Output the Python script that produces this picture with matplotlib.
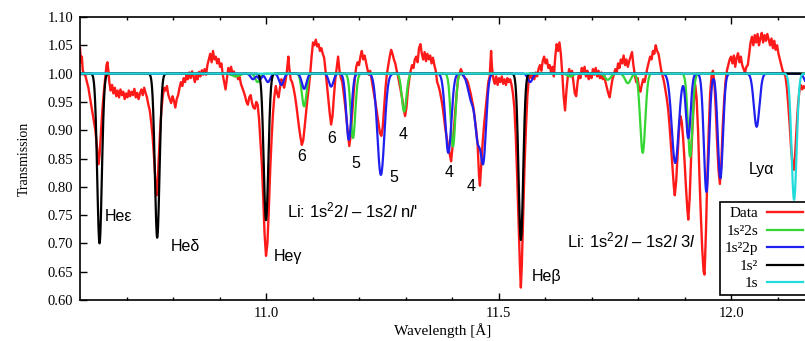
import numpy as np
import matplotlib
matplotlib.use("Agg")
import matplotlib.pyplot as plt

plt.rcParams['font.family'] = ['Liberation Serif', 'DejaVu Serif']
plt.rcParams['mathtext.fontset'] = 'custom'
plt.rcParams['mathtext.rm'] = 'Liberation Sans'
plt.rcParams['mathtext.it'] = 'Liberation Sans:italic'

# measured transmission (wavelength [A], transmission)
data_points = [
    (10.600, 1.045), (10.602, 1.020), (10.604, 1.030), (10.606, 1.005), (10.609, 1.000),
    (10.612, 0.995), (10.615, 0.985), (10.618, 0.975), (10.621, 0.960), (10.624, 0.945),
    (10.627, 0.930), (10.630, 0.915), (10.633, 0.900), (10.636, 0.875), (10.638, 0.855),
    (10.640, 0.840), (10.642, 0.855), (10.645, 0.895), (10.648, 0.935), (10.651, 0.965),
    (10.654, 0.990), (10.657, 1.015), (10.659, 1.020), (10.661, 1.005), (10.663, 0.985),
    (10.666, 0.970), (10.669, 0.980), (10.672, 0.965), (10.675, 0.975), (10.678, 0.960),
    (10.681, 0.970), (10.684, 0.958), (10.687, 0.972), (10.690, 0.962), (10.693, 0.968),
    (10.696, 0.955), (10.699, 0.965), (10.702, 0.958), (10.705, 0.970), (10.708, 0.960),
    (10.711, 0.968), (10.714, 0.962), (10.717, 0.973), (10.720, 0.958), (10.723, 0.966),
    (10.726, 0.955), (10.729, 0.965), (10.732, 0.972), (10.735, 0.962), (10.738, 0.975),
    (10.741, 0.966), (10.744, 0.958), (10.747, 0.945), (10.750, 0.935), (10.753, 0.915),
    (10.756, 0.890), (10.759, 0.855), (10.762, 0.815), (10.765, 0.785), (10.767, 0.800),
    (10.769, 0.845), (10.772, 0.895), (10.775, 0.935), (10.778, 0.960), (10.781, 0.975),
    (10.784, 0.970), (10.787, 0.978), (10.790, 0.962), (10.793, 0.955), (10.796, 0.948),
    (10.799, 0.960), (10.802, 0.952), (10.805, 0.940), (10.808, 0.955), (10.811, 0.962),
    (10.814, 0.975), (10.817, 0.985), (10.820, 0.978), (10.823, 0.992), (10.826, 0.985),
    (10.829, 0.998), (10.832, 0.990), (10.835, 1.002), (10.838, 0.992), (10.841, 1.004),
    (10.844, 0.995), (10.847, 0.985), (10.850, 0.998), (10.853, 0.990), (10.856, 1.003),
    (10.859, 0.995), (10.862, 1.006), (10.865, 0.998), (10.868, 1.008), (10.871, 0.998),
    (10.874, 1.015), (10.877, 1.025), (10.880, 1.035), (10.883, 1.020), (10.886, 1.040),
    (10.889, 1.025), (10.892, 1.030), (10.895, 1.018), (10.898, 1.026), (10.901, 1.012),
    (10.904, 1.018), (10.907, 0.998), (10.910, 0.985), (10.913, 0.972), (10.916, 0.992),
    (10.919, 1.010), (10.922, 1.002), (10.925, 1.012), (10.928, 0.998), (10.931, 1.004),
    (10.934, 0.995), (10.937, 1.000), (10.940, 0.990), (10.943, 0.995), (10.946, 0.982),
    (10.949, 0.975), (10.952, 0.968), (10.955, 0.960), (10.958, 0.950), (10.961, 0.945),
    (10.964, 0.958), (10.967, 0.962), (10.970, 0.948), (10.973, 0.940), (10.976, 0.938),
    (10.979, 0.950), (10.982, 0.945), (10.985, 0.920), (10.988, 0.880), (10.991, 0.840),
    (10.994, 0.780), (10.997, 0.715), (11.000, 0.678), (11.003, 0.700), (11.006, 0.760),
    (11.009, 0.830), (11.012, 0.885), (11.015, 0.930), (11.018, 0.960), (11.021, 0.978),
    (11.024, 0.965), (11.027, 0.958), (11.030, 0.975), (11.033, 0.990), (11.036, 0.982),
    (11.039, 0.975), (11.042, 0.988), (11.045, 1.005), (11.048, 1.030), (11.050, 1.010),
    (11.053, 0.990), (11.056, 0.985), (11.059, 0.975), (11.062, 0.962), (11.065, 0.945),
    (11.068, 0.925), (11.071, 0.905), (11.074, 0.888), (11.077, 0.874), (11.080, 0.882),
    (11.083, 0.905), (11.086, 0.930), (11.089, 0.955), (11.092, 0.975), (11.095, 1.000),
    (11.098, 1.030), (11.101, 1.055), (11.104, 1.050), (11.107, 1.060), (11.110, 1.048),
    (11.113, 1.052), (11.116, 1.040), (11.119, 1.045), (11.122, 1.035), (11.125, 1.028),
    (11.128, 1.005), (11.131, 0.980), (11.134, 0.955), (11.137, 0.930), (11.140, 0.910),
    (11.143, 0.925), (11.146, 0.960), (11.149, 0.990), (11.152, 1.010), (11.155, 1.030),
    (11.158, 1.005), (11.161, 0.992), (11.164, 0.985), (11.167, 0.965), (11.170, 0.945),
    (11.173, 0.920), (11.176, 0.895), (11.179, 0.872), (11.182, 0.890), (11.185, 0.925),
    (11.188, 0.960), (11.191, 0.992), (11.194, 1.012), (11.197, 1.020), (11.200, 1.015),
    (11.203, 1.030), (11.206, 1.040), (11.209, 1.025), (11.212, 1.032), (11.215, 1.020),
    (11.218, 1.008), (11.221, 0.998), (11.224, 1.005), (11.227, 0.990), (11.230, 0.975),
    (11.233, 0.960), (11.236, 0.945), (11.239, 0.928), (11.242, 0.912), (11.245, 0.895),
    (11.248, 0.890), (11.251, 0.905), (11.254, 0.940), (11.257, 0.975), (11.260, 1.000),
    (11.263, 1.015), (11.266, 1.030), (11.269, 1.042), (11.272, 1.035), (11.275, 1.025),
    (11.278, 1.018), (11.281, 1.005), (11.284, 0.995), (11.287, 0.982), (11.290, 0.968),
    (11.293, 0.955), (11.296, 0.938), (11.299, 0.925), (11.302, 0.940), (11.305, 0.970),
    (11.308, 0.990), (11.311, 1.005), (11.314, 1.015), (11.317, 1.010), (11.320, 1.025),
    (11.323, 1.030), (11.326, 1.020), (11.329, 1.045), (11.332, 1.052), (11.335, 1.035),
    (11.338, 1.025), (11.341, 1.038), (11.344, 1.022), (11.347, 1.035), (11.350, 1.025),
    (11.353, 1.032), (11.356, 1.018), (11.359, 1.028), (11.362, 1.015), (11.365, 1.005),
    (11.368, 0.985), (11.371, 0.978), (11.374, 0.968), (11.377, 0.955), (11.380, 0.940),
    (11.383, 0.920), (11.386, 0.900), (11.389, 0.885), (11.392, 0.870), (11.395, 0.858),
    (11.398, 0.845), (11.401, 0.870), (11.404, 0.900), (11.407, 0.935), (11.410, 0.965),
    (11.413, 0.992), (11.416, 1.000), (11.419, 1.008), (11.422, 1.002), (11.425, 0.995),
    (11.428, 0.992), (11.431, 0.990), (11.434, 0.985), (11.437, 0.975), (11.440, 0.965),
    (11.443, 0.952), (11.446, 0.940), (11.449, 0.920), (11.452, 0.900), (11.455, 0.875),
    (11.458, 0.820), (11.460, 0.802), (11.463, 0.840), (11.466, 0.880), (11.469, 0.910),
    (11.472, 0.935), (11.475, 0.960), (11.478, 0.985), (11.481, 0.995), (11.484, 1.040),
    (11.486, 1.010), (11.489, 0.990), (11.492, 0.982), (11.495, 0.995), (11.498, 0.980),
    (11.501, 0.992), (11.504, 0.985), (11.507, 0.995), (11.510, 0.982), (11.513, 0.990),
    (11.516, 0.980), (11.519, 0.992), (11.522, 0.985), (11.525, 0.990), (11.528, 0.980),
    (11.531, 0.965), (11.534, 0.940), (11.537, 0.890), (11.540, 0.820), (11.543, 0.740),
    (11.546, 0.660), (11.548, 0.622), (11.550, 0.660), (11.553, 0.750), (11.556, 0.840),
    (11.559, 0.905), (11.562, 0.960), (11.565, 0.990), (11.568, 0.998), (11.571, 0.992),
    (11.574, 1.000), (11.577, 0.990), (11.580, 1.002), (11.583, 0.995), (11.586, 1.008),
    (11.589, 1.015), (11.592, 1.005), (11.595, 1.022), (11.598, 1.030), (11.601, 1.018),
    (11.604, 1.025), (11.607, 1.010), (11.610, 1.015), (11.613, 1.002), (11.616, 1.012),
    (11.619, 0.995), (11.622, 1.030), (11.625, 1.052), (11.628, 1.040), (11.631, 1.055),
    (11.634, 1.035), (11.637, 1.000), (11.640, 0.960), (11.643, 0.935), (11.646, 0.970),
    (11.649, 0.995), (11.652, 1.008), (11.655, 0.995), (11.658, 1.005), (11.661, 0.985),
    (11.664, 0.965), (11.667, 0.960), (11.670, 0.985), (11.673, 1.000), (11.676, 0.992),
    (11.679, 1.010), (11.682, 1.000), (11.685, 1.012), (11.688, 0.995), (11.691, 1.005),
    (11.694, 0.990), (11.697, 1.000), (11.700, 0.992), (11.703, 1.008), (11.706, 0.998),
    (11.709, 1.010), (11.712, 0.995), (11.715, 1.005), (11.718, 0.992), (11.721, 1.002),
    (11.724, 0.990), (11.727, 0.998), (11.730, 0.985), (11.733, 0.975), (11.736, 0.965),
    (11.739, 0.958), (11.742, 0.975), (11.745, 0.990), (11.748, 0.998), (11.751, 1.008),
    (11.754, 1.000), (11.757, 1.018), (11.760, 1.010), (11.763, 1.025), (11.766, 1.018),
    (11.769, 1.032), (11.772, 1.015), (11.775, 1.025), (11.778, 1.012), (11.781, 1.022),
    (11.784, 1.030), (11.787, 1.038), (11.790, 1.015), (11.793, 0.998), (11.796, 0.985),
    (11.799, 0.992), (11.802, 0.975), (11.805, 0.968), (11.808, 0.980), (11.811, 0.990),
    (11.814, 0.985), (11.817, 0.998), (11.820, 1.010), (11.823, 1.020), (11.826, 1.030),
    (11.829, 1.025), (11.832, 1.040), (11.835, 1.035), (11.838, 1.050), (11.841, 1.040),
    (11.844, 1.035), (11.847, 1.020), (11.850, 1.005), (11.853, 0.995), (11.856, 0.985),
    (11.859, 0.970), (11.862, 0.955), (11.865, 0.935), (11.868, 0.905), (11.871, 0.870),
    (11.874, 0.835), (11.877, 0.800), (11.879, 0.785), (11.882, 0.810), (11.885, 0.855),
    (11.888, 0.900), (11.891, 0.925), (11.894, 0.915), (11.897, 0.885), (11.900, 0.845),
    (11.903, 0.800), (11.906, 0.760), (11.908, 0.742), (11.911, 0.780), (11.914, 0.850),
    (11.917, 0.905), (11.920, 0.950), (11.923, 0.980), (11.926, 0.955), (11.929, 0.900),
    (11.932, 0.820), (11.935, 0.750), (11.938, 0.690), (11.941, 0.650), (11.943, 0.645),
    (11.946, 0.720), (11.949, 0.820), (11.952, 0.900), (11.955, 0.965), (11.958, 0.995),
    (11.961, 1.005), (11.964, 0.985), (11.967, 0.940), (11.970, 0.880), (11.973, 0.830),
    (11.976, 0.805), (11.979, 0.840), (11.982, 0.905), (11.985, 0.950), (11.988, 0.985),
    (11.991, 1.005), (11.994, 1.015), (11.997, 1.025), (12.000, 1.030), (12.003, 1.018),
    (12.006, 1.032), (12.009, 1.012), (12.012, 1.028), (12.015, 1.036), (12.018, 1.020),
    (12.021, 1.030), (12.024, 1.015), (12.027, 1.008), (12.030, 1.002), (12.033, 1.012),
    (12.036, 1.015), (12.039, 1.035), (12.042, 1.055), (12.045, 1.065), (12.048, 1.050),
    (12.051, 1.068), (12.054, 1.055), (12.057, 1.070), (12.060, 1.050), (12.063, 1.062),
    (12.066, 1.072), (12.069, 1.055), (12.072, 1.068), (12.075, 1.058), (12.078, 1.070),
    (12.081, 1.060), (12.084, 1.050), (12.087, 1.062), (12.090, 1.045), (12.093, 1.058),
    (12.096, 1.042), (12.099, 1.050), (12.102, 1.035), (12.105, 1.025), (12.108, 1.015),
    (12.111, 1.005), (12.114, 1.000), (12.117, 0.995), (12.120, 0.975), (12.123, 0.945),
    (12.126, 0.910), (12.129, 0.870), (12.132, 0.840), (12.135, 0.830), (12.138, 0.860),
    (12.141, 0.905), (12.144, 0.945), (12.147, 0.970), (12.150, 0.980), (12.153, 0.972),
    (12.156, 0.978), (12.159, 0.975),
]

# model absorption lines: (centre [A], minimum transmission, width [A])
lines_2s = [
    (10.935, 0.995, 0.008), (10.982, 0.985, 0.005), (11.082, 0.942, 0.005),
    (11.187, 0.886, 0.005), (11.297, 0.933, 0.005), (11.402, 0.871, 0.005),
    (11.654, 0.995, 0.006), (11.735, 0.989, 0.006), (11.778, 0.983, 0.006),
    (11.810, 0.860, 0.0055), (11.912, 0.853, 0.005),
]
lines_2p = [
    (10.972, 0.990, 0.005), (10.987, 0.990, 0.004), (11.004, 0.985, 0.005),
    (11.033, 0.980, 0.005), (11.082, 0.973, 0.005), (11.140, 0.977, 0.005),
    (11.178, 0.883, 0.0055), (11.247, 0.821, 0.0075), (11.392, 0.860, 0.0065),
    (11.443, 0.950, 0.008), (11.455, 0.910, 0.005), (11.467, 0.845, 0.006),
    (11.568, 0.985, 0.005), (11.880, 0.842, 0.0075), (11.908, 0.886, 0.005),
    (11.947, 0.791, 0.0055), (11.977, 0.815, 0.0055), (12.055, 0.906, 0.006),
    (12.162, 0.985, 0.005),
]
lines_1s2 = [
    (10.642, 0.700, 0.005), (10.766, 0.710, 0.005),
    (11.000, 0.741, 0.005), (11.548, 0.706, 0.005),
]
lines_1s = [
    (12.1355, 0.777, 0.0055),
]

# line labels: (text, wavelength, transmission)
ion_labels = [
    ('Heε', 10.654, 0.748), ('Heδ', 10.796, 0.694), ('Heγ', 11.017, 0.676),
    ('Heβ', 11.572, 0.642), ('Lyα', 12.037, 0.830),
]
n_labels = [
    ('6', 11.077, 0.853), ('6', 11.141, 0.886), ('5', 11.193, 0.842),
    ('5', 11.275, 0.817), ('4', 11.295, 0.892), ('4', 11.394, 0.826),
    ('4', 11.441, 0.800),
]
li_labels = [
    ("Li: 1s$^2$2$\\mathit{l}$ – 1s2$\\mathit{l}$ n$\\mathit{l}$'", 11.045, 0.759),
    ("Li: 1s$^2$2$\\mathit{l}$ – 1s2$\\mathit{l}$ 3$\\mathit{l}$", 11.647, 0.706),
]

wl_min, wl_max = 10.6, 12.159


def transmission(wl, line_list):
    t = np.ones_like(wl)
    for centre, t_min, width in line_list:
        t *= 1.0 - (1.0 - t_min) * np.exp(-0.5 * ((wl - centre) / width) ** 2)
    return t


wl = np.linspace(wl_min, wl_max, 4000)
wl_data = [p[0] for p in data_points]
tr_data = [p[1] for p in data_points]

fig = plt.figure(figsize=(8.05, 3.41), dpi=100)
ax = fig.add_axes([80 / 805, 41 / 341, 725 / 805, 283 / 341])

ax.plot(wl_data, tr_data, color='#ff1a1a', lw=1.7, label='Data')
ax.plot(wl, transmission(wl, lines_2s), color='#33d633', lw=1.6, label='1s²2s')
ax.plot(wl, transmission(wl, lines_2p), color='#1f1fef', lw=1.6, label='1s²2p')
ax.plot(wl, transmission(wl, lines_1s2), color='black', lw=1.6, label='1s²')
ax.plot(wl, transmission(wl, lines_1s), color='#22dcdc', lw=1.6, label='1s')

sans = ['Liberation Sans', 'DejaVu Sans']
for txt, x, y in ion_labels:
    ax.text(x, y, txt, family=sans, fontsize=11.5, ha='left', va='center')
for txt, x, y in n_labels:
    ax.text(x, y, txt, family=sans, fontsize=11.5, ha='center', va='center')
for txt, x, y in li_labels:
    ax.text(x, y, txt, family=sans, fontsize=12, ha='left', va='center')

ax.set_xlim(wl_min, wl_max)
ax.set_ylim(0.60, 1.10)
ax.set_xticks([11.0, 11.5, 12.0])
ax.set_xticks(np.arange(10.7, 12.15, 0.1), minor=True)
ax.set_yticks(np.arange(0.60, 1.101, 0.05))
ax.yaxis.set_major_formatter(plt.FormatStrFormatter('%.2f'))
ax.xaxis.set_major_formatter(plt.FormatStrFormatter('%.1f'))
ax.tick_params(which='both', direction='in', top=True, right=False, labelsize=10.5, width=1.0)
ax.tick_params(which='major', length=5, pad=5)
ax.tick_params(which='minor', length=2.5)
ax.spines['right'].set_visible(False)
for s in ('left', 'top', 'bottom'):
    ax.spines[s].set_linewidth(1.2)

ax.set_xlabel('Wavelength [Å]', fontsize=11, labelpad=2)
ax.set_ylabel('Transmission', fontsize=10, labelpad=12)

handles, labels = ax.get_legend_handles_labels()
leg = ax.legend(handles, labels, loc='upper left', bbox_to_anchor=(0.883, 0.346),
                markerfirst=False, fontsize=11, frameon=True, fancybox=False,
                framealpha=1, edgecolor='black', borderpad=0.3, labelspacing=0.25,
                handlelength=2.3, handletextpad=0.6, borderaxespad=0)
leg.get_frame().set_linewidth(1.2)

fig.savefig('out.png', dpi=100)
